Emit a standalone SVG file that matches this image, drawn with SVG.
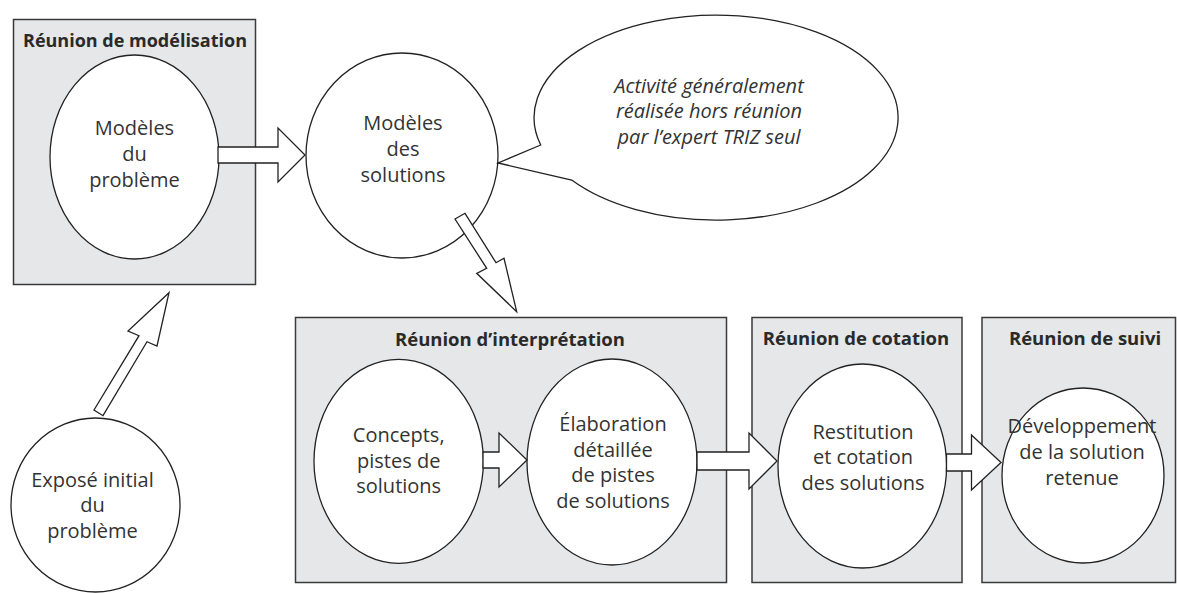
<svg xmlns="http://www.w3.org/2000/svg" width="1177" height="593" viewBox="0 0 1177 593">
  <style>
    .bg { fill: #ffffff; }
    .meeting { fill: #e6e7e8; stroke: #3a3a3a; stroke-width: 1.5; }
    .node { fill: #ffffff; stroke: #222222; stroke-width: 1.3; }
    .arrow { fill: #ffffff; stroke: #222222; stroke-width: 1.3; stroke-linejoin: miter; }
    .title { font-family: "Open Sans", "Liberation Sans", sans-serif; font-weight: bold; font-size: 18.5px; fill: #2a2a2a; text-anchor: middle; }
    .label { font-family: "Open Sans", "Liberation Sans", sans-serif; font-size: 20px; fill: #333333; text-anchor: middle; }
    .note { font-family: "Open Sans", "Liberation Sans", sans-serif; font-style: italic; font-size: 20px; fill: #333333; text-anchor: middle; }
  </style>

  <rect class="bg" x="0" y="0" width="1177" height="593"/>

  <!-- meeting frames -->
  <g id="meeting-modelisation">
    <rect class="meeting" x="13.5" y="19.5" width="242" height="265"/>
    <text class="title" x="135" y="47" style="font-size:18px">Réunion de modélisation</text>
  </g>
  <g id="meeting-interpretation">
    <rect class="meeting" x="295.5" y="317.5" width="431" height="265"/>
    <text class="title" x="510" y="346">Réunion d’interprétation</text>
  </g>
  <g id="meeting-cotation">
    <rect class="meeting" x="752" y="317.5" width="210" height="265"/>
    <text class="title" x="856" y="345">Réunion de cotation</text>
  </g>
  <g id="meeting-suivi">
    <rect class="meeting" x="982" y="317.5" width="193.5" height="265"/>
    <text class="title" x="1085" y="345">Réunion de suivi</text>
  </g>

  <!-- activity nodes -->
  <g id="node-modeles-probleme">
    <ellipse class="node" cx="134.5" cy="157" rx="84.5" ry="102"/>
    <text class="label" x="134.5" y="135">Modèles</text>
    <text class="label" x="134.5" y="161">du</text>
    <text class="label" x="134.5" y="187">problème</text>
  </g>
  <g id="node-modeles-solutions">
    <ellipse class="node" cx="402" cy="155.5" rx="96" ry="102.5"/>
    <text class="label" x="403" y="130">Modèles</text>
    <text class="label" x="403" y="156">des</text>
    <text class="label" x="403" y="182">solutions</text>
  </g>
  <g id="node-note">
    <path class="node" d="M540.7 145 L498 163 L571.7 180 A182 102.5 0 1 0 540.7 145 Z"/>
    <text class="note" x="709" y="93">Activité généralement</text>
    <text class="note" x="709" y="118">réalisée hors réunion</text>
    <text class="note" x="709" y="144">par l’expert TRIZ seul</text>
  </g>
  <g id="node-expose">
    <ellipse class="node" cx="95.5" cy="505" rx="84.5" ry="87"/>
    <text class="label" x="92.5" y="487">Exposé initial</text>
    <text class="label" x="92.5" y="512">du</text>
    <text class="label" x="92.5" y="538">problème</text>
  </g>
  <g id="node-concepts">
    <ellipse class="node" cx="398.7" cy="461.3" rx="84.7" ry="102"/>
    <text class="label" x="398.7" y="442">Concepts,</text>
    <text class="label" x="398.7" y="468">pistes de</text>
    <text class="label" x="398.7" y="493">solutions</text>
  </g>
  <g id="node-elaboration">
    <ellipse class="node" cx="612" cy="462" rx="85" ry="103"/>
    <text class="label" x="613" y="431">Élaboration</text>
    <text class="label" x="613" y="457">détaillée</text>
    <text class="label" x="613" y="482">de pistes</text>
    <text class="label" x="613" y="508">de solutions</text>
  </g>
  <g id="node-restitution">
    <ellipse class="node" cx="862.3" cy="466" rx="84.3" ry="102"/>
    <text class="label" x="863" y="439">Restitution</text>
    <text class="label" x="863" y="464">et cotation</text>
    <text class="label" x="863" y="490">des solutions</text>
  </g>
  <g id="node-developpement">
    <ellipse class="node" cx="1083" cy="475.5" rx="81" ry="87.5"/>
    <text class="label" x="1082" y="433">Développement</text>
    <text class="label" x="1082" y="459">de la solution</text>
    <text class="label" x="1082" y="485">retenue</text>
  </g>

  <!-- block-arrow connectors -->
  <g id="connectors">
    <polygon class="arrow" points="218,147 278,147 278,128 305,155 278,182 278,163 218,163"/>
    <polygon class="arrow" points="455,219 465,213.3 496,262.7 504,258.3 516.7,311.7 476.7,273.3 486.7,268.3"/>
    <polygon class="arrow" points="94,410 139,335.7 128,331 169,292.7 157,346 147,341.7 103,415.7"/>
    <polygon class="arrow" points="483,452 499,452 499,433 527,460 499,487 499,468 483,468"/>
    <polygon class="arrow" points="697,452 749,452 749,433 777,461 749,489 749,470 697,470"/>
    <polygon class="arrow" points="946.5,454 971.5,454 971.5,435 1001,462.5 971.5,490 971.5,471 946.5,471"/>
  </g>
</svg>
